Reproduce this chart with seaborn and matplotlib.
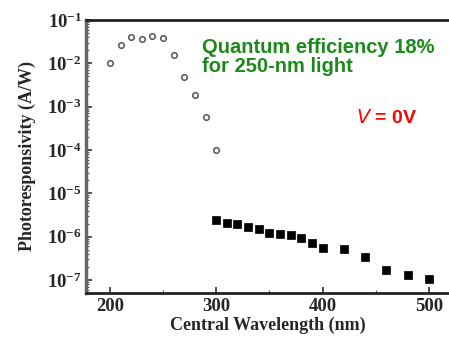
import numpy as np
import pandas as pd
import matplotlib
matplotlib.use("Agg")
import matplotlib.pyplot as plt
import seaborn as sns
from matplotlib.ticker import LogLocator, FixedLocator, NullFormatter, LogFormatterSciNotation

sns.set_theme(style="white")
plt.rcParams['font.family'] = ['Liberation Serif', 'DejaVu Serif']

# Data
wl_circle = [200, 210, 220, 230, 240, 250, 260, 270, 280, 290, 300]
resp_circle = [1.03e-2, 2.65e-2, 4.1e-2, 3.6e-2, 4.3e-2, 3.8e-2, 1.55e-2, 4.9e-3, 1.9e-3, 5.8e-4, 1.0e-4]
wl_square = [300, 310, 320, 330, 340, 350, 360, 370, 380, 390, 400, 420, 440, 460, 480, 500]
resp_square = [2.4e-6, 2.1e-6, 1.95e-6, 1.7e-6, 1.5e-6, 1.2e-6, 1.15e-6, 1.07e-6, 9.1e-7, 7.3e-7,
               5.6e-7, 5.3e-7, 3.3e-7, 1.7e-7, 1.3e-7, 1.08e-7]
xticks = [200, 300, 400, 500]
yticks = [1e-7, 1e-6, 1e-5, 1e-4, 1e-3, 1e-2, 1e-1]

df_c = pd.DataFrame({'wl': wl_circle, 'r': resp_circle})
df_s = pd.DataFrame({'wl': wl_square, 'r': resp_square})

fig = plt.figure(figsize=(4.49, 3.5), dpi=100)
ax = fig.add_axes([0.1915, 0.163, 0.8085, 0.78])

sns.scatterplot(data=df_c, x='wl', y='r', ax=ax, marker='o', s=16,
                facecolor='white', edgecolor='#555555', linewidth=1.1, zorder=3)
sns.scatterplot(data=df_s, x='wl', y='r', ax=ax, marker='s', s=26,
                color='black', edgecolor='black', linewidth=0.5, zorder=3)

ax.set_yscale('log')
ax.set_xlim(177.5, 519)
ax.set_ylim(10**-7.3, 1e-1)
ax.xaxis.set_major_locator(FixedLocator(xticks))
ax.xaxis.set_minor_locator(FixedLocator([250, 350, 450]))
ax.xaxis.set_minor_formatter(NullFormatter())
ax.yaxis.set_major_locator(FixedLocator(yticks))
ax.yaxis.set_major_formatter(LogFormatterSciNotation())
ax.yaxis.set_minor_locator(LogLocator(base=10, subs=np.arange(2, 10), numticks=20))
ax.yaxis.set_minor_formatter(NullFormatter())

ax.tick_params(axis='both', which='major', labelsize=13.5, direction='in', length=4,
               width=1.2, color='#333333', bottom=True, left=True)
ax.tick_params(axis='both', which='minor', direction='in', length=2, width=0.8,
               color='#555555', bottom=True, left=True)
ax.tick_params(axis='y', which='major', pad=3)
plt.setp(ax.get_xticklabels(), fontweight='bold')
plt.setp(ax.get_yticklabels(), fontweight='bold')

ax.spines['right'].set_visible(False)
ax.spines['top'].set_visible(True)
ax.spines['top'].set_color('#222222')
ax.spines['top'].set_linewidth(2)
ax.spines['bottom'].set_color('#222222')
ax.spines['bottom'].set_linewidth(2)
ax.spines['left'].set_color('#666666')
ax.spines['left'].set_linewidth(2.5)

ax.set_xlabel('Central Wavelength (nm)', fontsize=13, fontweight='bold', labelpad=1)
ax.set_ylabel('Photoresponsivity (A/W)', fontsize=13, fontweight='bold', labelpad=8)

ax.text(0.32, 0.935, 'Quantum efficiency 18%\nfor 250-nm light', transform=ax.transAxes,
        color='#1b8a1b', fontsize=14.5, fontweight='bold', family=['Liberation Sans', 'DejaVu Sans'],
        va='top', ha='left', linespacing=1.0)
ax.text(0.745, 0.641, '$\\mathbf{\\it{V}}$ = 0V', transform=ax.transAxes, color='red',
        fontsize=14, fontweight='bold', family=['Liberation Sans', 'DejaVu Sans'], va='center')

fig.savefig('out.png', dpi=100)
